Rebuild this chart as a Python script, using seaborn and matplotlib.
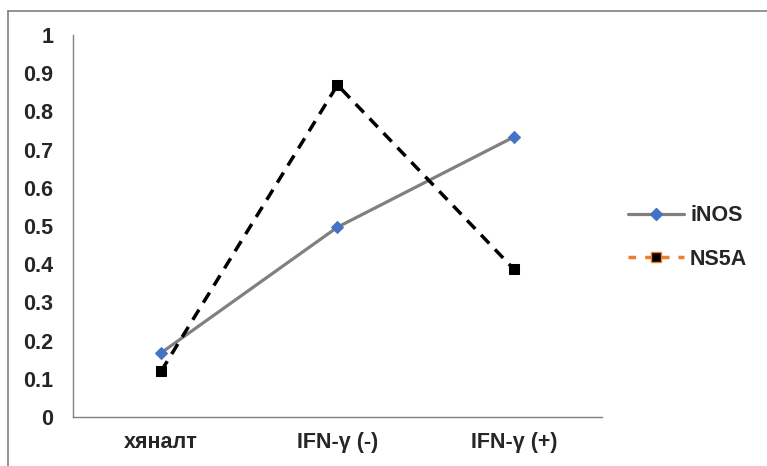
import matplotlib
matplotlib.use('Agg')
import pandas as pd
import matplotlib.pyplot as plt
import seaborn as sns
from matplotlib.lines import Line2D

# values
categories = ['хяналт', 'IFN-γ (-)', 'IFN-γ (+)']
inos = [0.168, 0.497, 0.733]
ns5a = [0.12, 0.869, 0.387]
yticks = [0, 0.1, 0.2, 0.3, 0.4, 0.5, 0.6, 0.7, 0.8, 0.9, 1]
ytick_labels = ['0', '0.1', '0.2', '0.3', '0.4', '0.5', '0.6', '0.7', '0.8', '0.9', '1']

df = pd.DataFrame({'group': categories, 'iNOS': inos, 'NS5A': ns5a})

sns.set_style('white')
plt.rcParams['font.family'] = ['Liberation Sans', 'DejaVu Sans']
plt.rcParams['font.weight'] = 'bold'

fig = plt.figure(figsize=(7.67, 4.66), dpi=100)
ax = fig.add_axes([0.095, 0.105, 0.690, 0.820])

sns.lineplot(data=df, x='group', y='iNOS', ax=ax, color='#808080', linewidth=2.3,
             marker='D', markersize=6, markerfacecolor='#4472C4', markeredgecolor='#4472C4')
sns.lineplot(data=df, x='group', y='NS5A', ax=ax, color='black', linewidth=2.5,
             linestyle=(0, (3.4, 2.4)), marker='s', markersize=7,
             markerfacecolor='black', markeredgecolor='black')

ax.set_xlim(-0.5, 2.5)
ax.set_ylim(0, 1)
ax.set_yticks(yticks)
ax.set_yticklabels(ytick_labels, fontsize=15.5, fontweight='bold')
ax.set_xticks([0, 1, 2])
ax.set_xticklabels(categories, fontsize=15.5, fontweight='bold')
ax.set_xlabel('')
ax.set_ylabel('')

# category boundaries as tick marks
ax.set_xticks([-0.5, 0.5, 1.5, 2.5], minor=True)
ax.tick_params(axis='x', which='major', length=0, pad=11)
ax.tick_params(axis='x', which='minor', length=8, width=1, color='#808080', direction='out')
ax.tick_params(axis='y', length=6, width=1, color='#808080', direction='out', pad=8)

for s in ['top', 'right']:
    ax.spines[s].set_visible(False)
for s in ['left', 'bottom']:
    ax.spines[s].set_color('#808080')
    ax.spines[s].set_linewidth(1)

handles = [
    Line2D([], [], color='#808080', linewidth=2.3, marker='D', markersize=6,
           markerfacecolor='#4472C4', markeredgecolor='#4472C4'),
    Line2D([], [], color='#ED7D31', linewidth=2.5, linestyle=(0, (2.2, 2.6)), marker='s',
           markersize=7, markerfacecolor='black', markeredgecolor='#ED7D31'),
]
leg = fig.legend(handles, ['iNOS', 'NS5A'], loc='center left', bbox_to_anchor=(0.793, 0.49),
                 frameon=False, handlelength=2.6, handletextpad=0.3, labelspacing=1.05,
                 prop={'size': 15.5, 'weight': 'bold'})

# chart area border (top and left visible)
fig.add_artist(Line2D([0.0104, 0.0104], [0.0, 0.976], transform=fig.transFigure,
                      color='#808080', linewidth=1.2))
fig.add_artist(Line2D([0.0104, 1.0], [0.976, 0.976], transform=fig.transFigure,
                      color='#808080', linewidth=1.2))

fig.savefig('out.png', dpi=100)
